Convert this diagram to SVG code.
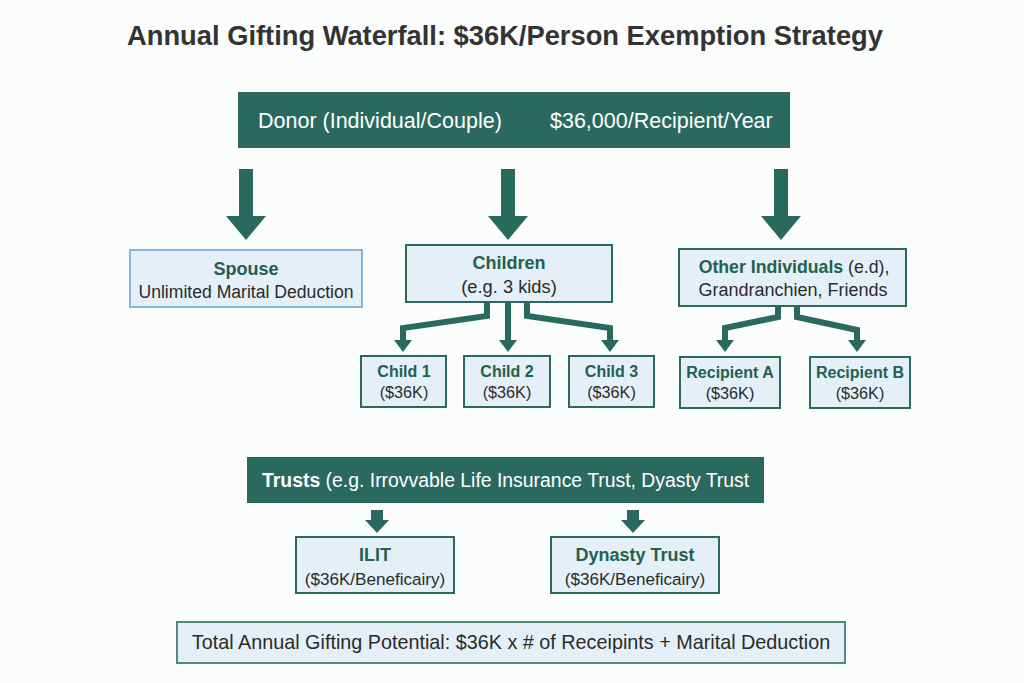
<svg xmlns="http://www.w3.org/2000/svg" width="1024" height="683" viewBox="0 0 1024 683">
<defs>
<style>
text{font-family:"Liberation Sans",Arial,sans-serif}
.title{font-size:27.3px;font-weight:bold;fill:#333;text-anchor:middle}
.dark{fill:#2a6a5e}
.light{fill:#e5eff8;stroke:#2a6a5e;stroke-width:2}
.lightb{fill:#e5eff8;stroke:#8ab6da;stroke-width:2}
.lightt{fill:#e5eff8;stroke:#4f8a80;stroke-width:2}
.wt{fill:#fff;font-size:21.5px}
.hd{fill:#22604f;font-size:18px;font-weight:bold;text-anchor:middle}
.sm{fill:#2b2b2b;font-size:17.6px;text-anchor:middle}
.ch{fill:#22604f;font-size:16px;font-weight:bold;text-anchor:middle}
.cs{fill:#2b2b2b;font-size:16.2px;text-anchor:middle}
.conn{fill:none;stroke:#2a6a5e;stroke-width:6;stroke-linejoin:miter}
.ah{fill:#2a6a5e}
</style>
</defs>
<rect width="1024" height="683" fill="#fbfcfc"/>
<text class="title" x="505" y="45">Annual Gifting Waterfall: $36K/Person Exemption Strategy</text>

<g id="donor">
<rect class="dark" x="238" y="92" width="552" height="56"/>
<text class="wt" x="258" y="128">Donor (Individual/Couple)</text>
<text class="wt" x="550" y="128">$36,000/Recipient/Year</text>
</g>

<g id="spouse">
<rect class="lightb" x="130" y="250" width="232" height="57"/>
<text class="hd" x="246" y="275">Spouse</text>
<text class="sm" x="246" y="298">Unlimited Marital Deduction</text>
</g>

<g id="children">
<rect class="light" x="406" y="245" width="206" height="57"/>
<text class="hd" x="509" y="269">Children</text>
<text class="sm" x="509" y="293" style="font-size:18.3px">(e.g. 3 kids)</text>
</g>

<g id="other">
<rect class="light" x="679" y="249" width="227" height="57"/>
<text class="hd" x="794" y="273" style="font-size:17.7px"><tspan>Other Individuals</tspan><tspan style="font-weight:normal;fill:#2b2b2b"> (e.d),</tspan></text>
<text class="sm" x="793" y="296" style="font-size:18px">Grandranchien, Friends</text>
</g>

<g id="child1">
<rect class="light" x="361" y="356" width="85" height="51"/>
<text class="ch" x="404" y="377">Child 1</text>
<text class="cs" x="404" y="398">($36K)</text>
</g>
<g id="child2">
<rect class="light" x="464" y="356" width="86" height="51"/>
<text class="ch" x="507" y="377">Child 2</text>
<text class="cs" x="507" y="398">($36K)</text>
</g>
<g id="child3">
<rect class="light" x="569" y="356" width="85" height="51"/>
<text class="ch" x="611.5" y="377">Child 3</text>
<text class="cs" x="611.5" y="398">($36K)</text>
</g>
<g id="recipientA">
<rect class="light" x="680" y="357" width="100" height="51"/>
<text class="ch" x="730" y="378">Recipient A</text>
<text class="cs" x="730" y="399">($36K)</text>
</g>
<g id="recipientB">
<rect class="light" x="810" y="357" width="100" height="51"/>
<text class="ch" x="860" y="378">Recipient B</text>
<text class="cs" x="860" y="399">($36K)</text>
</g>

<g id="trusts">
<rect class="dark" x="247" y="457" width="517" height="46"/>
<text class="wt" x="262" y="487" style="font-size:19.4px"><tspan style="font-weight:bold">Trusts</tspan> (e.g. Irrovvable Life Insurance Trust, Dyasty Trust</text>
</g>

<g id="ilit">
<rect class="light" x="296" y="537" width="158" height="56"/>
<text class="hd" x="375" y="561">ILIT</text>
<text class="sm" x="375" y="585" style="font-size:17.1px">($36K/Beneficairy)</text>
</g>
<g id="dynasty">
<rect class="light" x="551" y="537" width="168" height="56"/>
<text class="hd" x="635" y="561">Dynasty Trust</text>
<text class="sm" x="635" y="585" style="font-size:17.1px">($36K/Beneficairy)</text>
</g>

<g id="total">
<rect class="lightt" x="177" y="622" width="668" height="41"/>
<text x="511" y="649" style="font-size:19.8px;fill:#2b2b2b;text-anchor:middle">Total Annual Gifting Potential: $36K x # of Receipints + Marital Deduction</text>
</g>

<g id="connectors">
<polygon class="ah" points="239,169 253,169 253,216 266,216 246,240 226,216 239,216"/>
<polygon class="ah" points="501,169 515,169 515,216 528,216 508,240 488,216 501,216"/>
<polygon class="ah" points="774,169 788,169 788,216 801,216 781,240 761,216 774,216"/>

<polyline class="conn" points="487,302 487,316 403,328 403,342"/>
<polygon class="ah" points="394,340 412,340 403,352"/>
<polyline class="conn" points="508,302 508,342"/>
<polygon class="ah" points="499,340 517,340 508,352"/>
<polyline class="conn" points="527,302 527,316 610,328 610,342"/>
<polygon class="ah" points="601,340 619,340 610,352"/>

<polyline class="conn" points="778,306 778,317 725,328 725,342"/>
<polygon class="ah" points="716,340 734,340 725,352"/>
<polyline class="conn" points="797,306 797,317 857,330 857,342"/>
<polygon class="ah" points="848,340 866,340 857,352"/>

<polygon class="ah" points="371,510 383,510 383,520 389,520 377,533 365,520 371,520"/>
<polygon class="ah" points="627,510 639,510 639,520 645,520 633,533 621,520 627,520"/>
</g>
</svg>
